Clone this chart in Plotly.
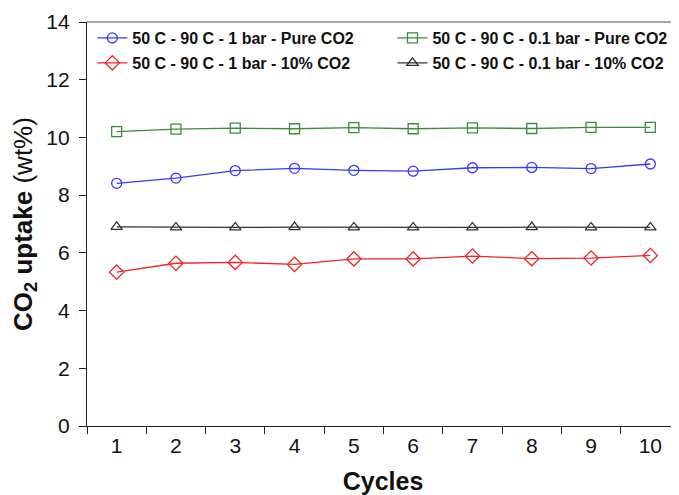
import plotly.graph_objects as go

cycles = [str(i) for i in range(1, 11)]
names = ["50 C - 90 C - 1 bar - Pure CO2",
         "50 C - 90 C - 0.1 bar - Pure CO2",
         "50 C - 90 C - 1 bar - 10% CO2",
         "50 C - 90 C - 0.1 bar - 10% CO2"]
blue_1bar_pure = [8.41, 8.59, 8.85, 8.93, 8.86, 8.83, 8.95, 8.96, 8.92, 9.08]
green_01bar_pure = [10.20, 10.29, 10.32, 10.30, 10.34, 10.30, 10.33, 10.31, 10.35, 10.35]
red_1bar_10 = [5.33, 5.64, 5.67, 5.60, 5.79, 5.79, 5.89, 5.80, 5.82, 5.91]
black_01bar_10 = [6.90, 6.88, 6.88, 6.89, 6.88, 6.88, 6.88, 6.89, 6.88, 6.88]
y_ticks = [0, 2, 4, 6, 8, 10, 12, 14]

series = [
    (names[0], blue_1bar_pure, "#3a3af0", "circle-open", 10, "legend"),
    (names[1], green_01bar_pure, "#3c8c3c", "square-open", 10, "legend2"),
    (names[2], red_1bar_10, "#f02424", "diamond-open", 11, "legend3"),
    (names[3], black_01bar_10, "#333333", "triangle-up-open", 10, "legend4"),
]

fig = go.Figure()
for name, vals, color, sym, size, leg in series:
    fig.add_trace(go.Scatter(
        x=cycles, y=vals, name=name, mode="lines+markers",
        line=dict(color=color, width=1.3),
        marker=dict(symbol=sym, size=size, color=color, line=dict(width=1.3, color=color)),
        legend=leg, showlegend=True,
    ))

legfont = dict(family="Liberation Sans, Arial, sans-serif", size=16, color="#111111", weight="bold")
common = dict(font=legfont, bgcolor="rgba(0,0,0,0)", borderwidth=0,
              xanchor="left", yanchor="middle", visible=True)
y1 = 1 - (38 - 22) / 404
y2 = 1 - (63 - 22) / 404
xl1 = 0.009
xl2 = 0.516

fig.update_layout(
    width=671, height=487,
    showlegend=True,
    margin=dict(l=79, r=0, t=14, b=69),
    paper_bgcolor="white", plot_bgcolor="white",
    font=dict(family="Liberation Sans, Arial, sans-serif", color="#111111"),
    legend=dict(x=xl1, y=y1, **common),
    legend2=dict(x=xl2, y=y1, **common),
    legend3=dict(x=xl1, y=y2, **common),
    legend4=dict(x=xl2, y=y2, **common),
    xaxis=dict(
        type="category", range=[-0.5, 9.483],
        tickson="boundaries", ticks="outside", ticklen=7, tickcolor="#222222",
        showline=True, linecolor="#222222", linewidth=1.3,
        showgrid=False, zeroline=False, ticklabelstandoff=1,
        tickfont=dict(size=21, color="#111111"),
        title=dict(text="<b>Cycles</b>", font=dict(size=25, color="#111111"), standoff=17),
    ),
    yaxis=dict(
        range=[0, 14], tickvals=y_ticks,
        ticks="outside", ticklen=7, tickcolor="#222222",
        showline=True, linecolor="#222222", linewidth=1.3,
        showgrid=False, zeroline=False, ticklabelstandoff=5,
        tickfont=dict(size=21, color="#111111"),
        title=dict(text="<b>CO<sub>2</sub> uptake</b> (wt%)", font=dict(size=26, color="#111111"), standoff=6),
    ),
    shapes=[dict(type="line", xref="paper", yref="paper", x0=0, x1=1, y0=1, y1=1,
                 line=dict(color="#888888", width=1.5))],
)

fig.write_html("out.html")
